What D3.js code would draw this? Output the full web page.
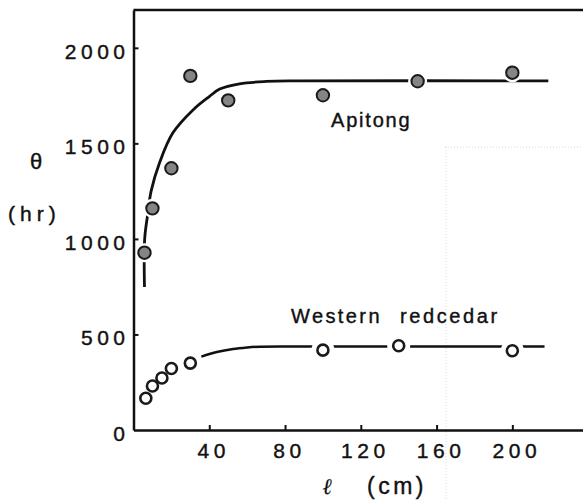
<!DOCTYPE html>
<html>
<head>
<meta charset="utf-8">
<script src="https://cdn.jsdelivr.net/npm/d3@7"></script>
<style>
  body { margin: 0; background: #fff; }
  svg { display: block; font-family: "Liberation Sans", Arial, sans-serif; }
</style>
</head>
<body>
<div id="chart"></div>
<script>
// 측정값 (Apitong: 채운 원, Western redcedar: 빈 원)
const apitongL = [5.8, 10, 20, 30, 50, 100, 150, 200];
const apitongTheta = [928, 1160, 1370, 1853, 1725, 1752, 1825, 1870];
const redcedarL = [6.5, 10, 15, 20, 30, 100, 140, 200];
const redcedarTheta = [166, 230, 272, 322, 350, 418, 441, 415];

// 곡선 (그림에서 읽은 점)
const apitongCurveL = [5.8, 5.9, 7.6, 9.3, 13.8, 20.8, 31.4, 40, 45.5, 56, 70, 88, 219];
const apitongCurveTheta = [748, 1000, 1135, 1250, 1400, 1555, 1675, 1745, 1784, 1812, 1824, 1827, 1827];
const redcedarCurveL = [35.8, 44, 52.5, 60, 66.7, 88, 217];
const redcedarCurveTheta = [384, 408, 424, 432, 436, 437, 437];

const xTicks = [40, 80, 120, 160, 200];
const yTicks = [0, 500, 1000, 1500, 2000];

const width = 583, height = 500;
const svg = d3.select('#chart').append('svg')
  .attr('width', width)
  .attr('height', height);

const x = d3.scaleLinear().domain([0, 237.3]).range([133.5, 583]);
const y = d3.scaleLinear().domain([0, 2198]).range([430, 10]);

// 스캔 자국 (희미한 점선)
svg.append('path')
  .attr('d', 'M 445 147 L 583 147 M 446 147 L 446 500')
  .style('fill', 'none')
  .style('stroke', '#d8d8d8')
  .style('stroke-width', 1)
  .style('stroke-dasharray', '1,2');

// 곡선
const line = d3.line()
  .x(function(d) { return x(d[0]); })
  .y(function(d) { return y(d[1]); })
  .curve(d3.curveCatmullRom.alpha(0.5));

svg.append('path')
  .datum(d3.zip(apitongCurveL, apitongCurveTheta))
  .attr('d', line)
  .style('fill', 'none')
  .style('stroke', '#111')
  .style('stroke-width', 2.8);

svg.append('path')
  .datum(d3.zip(redcedarCurveL, redcedarCurveTheta))
  .attr('d', line)
  .style('fill', 'none')
  .style('stroke', '#111')
  .style('stroke-width', 2.5);

// 점 (선 끊김을 위한 흰 테두리 포함)
const drawPoints = function(ls, ts, halo, fill, r) {
  const pts = d3.zip(ls, ts);
  svg.append('g').selectAll('circle').data(pts).join('circle')
    .attr('cx', function(d) { return x(d[0]); })
    .attr('cy', function(d) { return y(d[1]); })
    .attr('r', halo)
    .style('fill', '#fff');
  svg.append('g').selectAll('circle').data(pts).join('circle')
    .attr('cx', function(d) { return x(d[0]); })
    .attr('cy', function(d) { return y(d[1]); })
    .attr('r', r)
    .style('fill', fill)
    .style('stroke', '#1a1a1a')
    .style('stroke-width', fill === '#fff' ? 2.6 : 2);
};
drawPoints(apitongL, apitongTheta, 9.5, '#858585', 6.2);
drawPoints(redcedarL, redcedarTheta, 11.5, '#fff', 5.5);

// 위쪽 테두리
svg.append('line')
  .attr('x1', x(0)).attr('x2', x(237.3))
  .attr('y1', y(2198)).attr('y2', y(2198))
  .style('stroke', '#111')
  .style('stroke-width', 2.5);

// 축 (점 위에 그림)
const fmt = d3.format('d');
const xAxis = svg.append('g')
  .attr('transform', 'translate(0,' + y(0) + ')')
  .call(d3.axisBottom(x).tickValues(xTicks).tickFormat(fmt).tickSizeInner(-5).tickSizeOuter(0).tickPadding(13));

const yAxis = svg.append('g')
  .attr('transform', 'translate(' + x(0) + ',0)')
  .call(d3.axisLeft(y).tickValues(yTicks).tickFormat(fmt).tickSizeInner(-5).tickSizeOuter(0).tickPadding(2));

[xAxis, yAxis].forEach(function(ax) {
  ax.select('.domain').style('stroke', '#111').style('stroke-width', 2.5);
  ax.selectAll('.tick line').style('stroke', '#111').style('stroke-width', 2);
  ax.selectAll('.tick text')
    .style('font-family', '"Liberation Sans", Arial, sans-serif')
    .style('font-size', '21px')
    .style('letter-spacing', '4.5px')
    .style('fill', '#111')
    .style('stroke', '#111')
    .style('stroke-width', 0.4);
});
xAxis.selectAll('.tick text').attr('dy', '0.71em').attr('dx', '4px');
yAxis.selectAll('.tick text').attr('dy', '0.5em').attr('dx', '-2px');
yAxis.selectAll('.tick').filter(function(d) { return d === 0; }).select('line').remove();

// 축 제목
const label = function(txt, lx, ly, size, spacing, anchor) {
  return svg.append('text')
    .attr('x', lx).attr('y', ly)
    .style('font-size', size + 'px')
    .style('letter-spacing', spacing + 'px')
    .style('text-anchor', anchor || 'start')
    .style('fill', '#111')
    .style('stroke', '#111')
    .style('stroke-width', 0.4)
    .text(txt);
};
label('θ', 36, 169, 22, 0, 'middle');
label('(hr)', 8, 221, 21, 5);
label('ℓ', 327, 494, 22, 0, 'middle').style('font-family', '"DejaVu Serif", serif').style('font-style', 'italic').style('stroke-width', 0.2);
label('(cm)', 367, 494, 23, 3.5);

// 계열 이름
label('Apitong', 331, 127, 20, 1.8);
label('Western', 291, 323, 20, 2.4);
label('redcedar', 400, 323, 20, 2.6);
</script>
</body>
</html>
